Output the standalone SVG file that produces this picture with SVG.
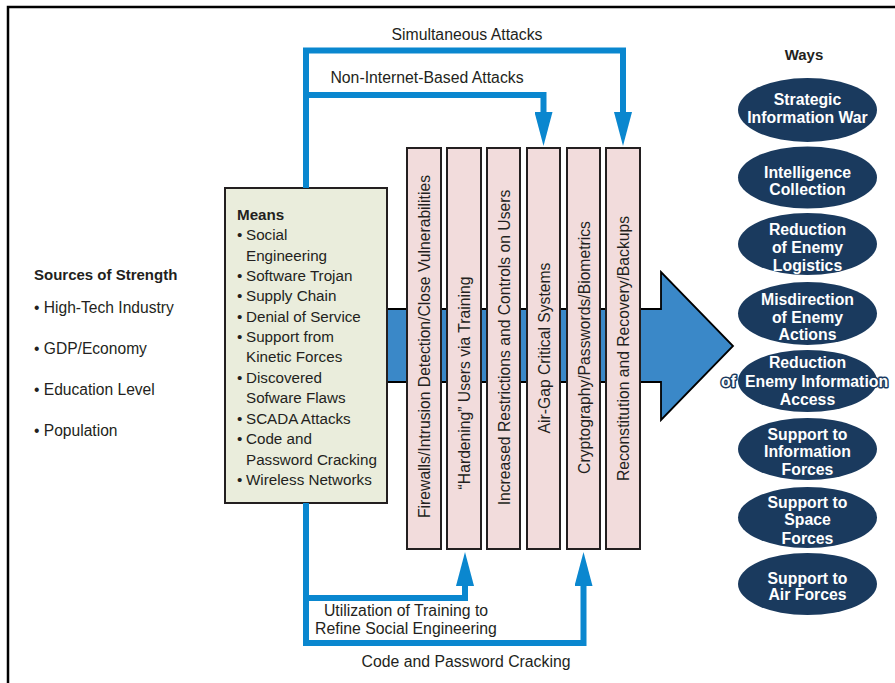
<svg xmlns="http://www.w3.org/2000/svg" width="895" height="683" viewBox="0 0 895 683">
<style>
  text { font-family: "Liberation Sans", Arial, sans-serif; fill: #231f20; }
  .lbl { font-size: 15.8px; }
  .means { font-size: 15.2px; }
  .bar { fill: #f2dcdc; stroke: #231f20; stroke-width: 2; }
  .bartxt { font-size: 15.7px; text-anchor: middle; }
  .conn { fill: none; stroke: #0a87cf; stroke-width: 6; stroke-linejoin: miter; marker-end: url(#ah); }
  .way { fill: #1a3a5e; }
  .waytxt { font-size: 15.8px; font-weight: bold; fill: #ffffff; text-anchor: middle; }
  .outl { text-anchor: start; stroke: #1a3a5e; stroke-width: 3; paint-order: stroke; stroke-linejoin: round; }
  .src { font-size: 15.6px; }
</style>
<defs>
  <marker id="ah" viewBox="0 0 34 18" refX="0" refY="9" markerWidth="34" markerHeight="18" markerUnits="userSpaceOnUse" orient="auto">
    <path d="M0,0 L34,9 L0,18 Z" fill="#0a87cf"/>
  </marker>
</defs>
<rect x="0" y="0" width="895" height="683" fill="#ffffff"/>
<rect x="8" y="7" width="920" height="720" fill="none" stroke="#000000" stroke-width="2.5"/>

<g id="sources">
  <text x="34" y="280" style="font-size:15px;font-weight:bold">Sources of Strength</text>
  <text class="src" x="34" y="313">• High-Tech Industry</text>
  <text class="src" x="34" y="354">• GDP/Economy</text>
  <text class="src" x="34" y="395">• Education Level</text>
  <text class="src" x="34" y="436">• Population</text>
</g>

<g id="main-arrow">
  <polygon points="380,309 661,309 661,272 733,346 661,420 661,382 380,382" fill="#3a88c8" stroke="#000000" stroke-width="1.8" stroke-linejoin="miter"/>
</g>

<g id="means">
  <rect x="225" y="188" width="162" height="315" fill="#eaeddc" stroke="#231f20" stroke-width="2"/>
  <text x="237" y="220" style="font-size:15.2px;font-weight:bold">Means</text>
  <text class="means" x="237" y="240">• <tspan x="246">Social</tspan></text>
  <text class="means" x="246" y="261">Engineering</text>
  <text class="means" x="237" y="281">• <tspan x="246">Software Trojan</tspan></text>
  <text class="means" x="237" y="301">• <tspan x="246">Supply Chain</tspan></text>
  <text class="means" x="237" y="322">• <tspan x="246">Denial of Service</tspan></text>
  <text class="means" x="237" y="342">• <tspan x="246">Support from</tspan></text>
  <text class="means" x="246" y="362">Kinetic Forces</text>
  <text class="means" x="237" y="383">• <tspan x="246">Discovered</tspan></text>
  <text class="means" x="246" y="403">Sofware Flaws</text>
  <text class="means" x="237" y="424">• <tspan x="246">SCADA Attacks</tspan></text>
  <text class="means" x="237" y="444">• <tspan x="246">Code and</tspan></text>
  <text class="means" x="246" y="465">Password Cracking</text>
  <text class="means" x="237" y="485">• <tspan x="246">Wireless Networks</tspan></text>
</g>

<g id="bar1">
  <rect class="bar" x="407" y="148" width="34" height="401"/>
  <text class="bartxt" transform="translate(430,346.5) rotate(-90)">Firewalls/Intrusion Detection/Close Vulnerabilities</text>
</g>
<g id="bar2">
  <rect class="bar" x="447" y="148" width="34" height="401"/>
  <text class="bartxt" transform="translate(470,383) rotate(-90)">“Hardening” Users via Training</text>
</g>
<g id="bar3">
  <rect class="bar" x="487" y="148" width="33" height="401"/>
  <text class="bartxt" transform="translate(509.5,347.5) rotate(-90)">Increased Restrictions and Controls on Users</text>
</g>
<g id="bar4">
  <rect class="bar" x="527" y="148" width="33" height="401"/>
  <text class="bartxt" transform="translate(549.5,348) rotate(-90)">Air-Gap Critical Systems</text>
</g>
<g id="bar5">
  <rect class="bar" x="567" y="148" width="33" height="401"/>
  <text class="bartxt" transform="translate(589.5,347.5) rotate(-90)">Cryptography/Passwords/Biometrics</text>
</g>
<g id="bar6">
  <rect class="bar" x="606" y="148" width="34" height="401"/>
  <text class="bartxt" transform="translate(629,348.5) rotate(-90)">Reconstitution and Recovery/Backups</text>
</g>

<g id="connectors">
  <path class="conn" d="M306,188 V50.5 H623 V112"/>
  <path class="conn" d="M306,95 H543.5 V112"/>
  <path class="conn" d="M306,503 V598 H465 V586"/>
  <path class="conn" d="M306,598 V643 H583.5 V586"/>
  <text class="lbl" x="467" y="40" text-anchor="middle">Simultaneous Attacks</text>
  <text class="lbl" x="427" y="83" text-anchor="middle">Non-Internet-Based Attacks</text>
  <text class="lbl" x="406" y="616" text-anchor="middle">Utilization of Training to</text>
  <text class="lbl" x="406" y="634" text-anchor="middle">Refine Social Engineering</text>
  <text class="lbl" x="466" y="667" text-anchor="middle">Code and Password Cracking</text>
</g>

<g id="ways-title">
  <text x="804" y="60" text-anchor="middle" style="font-size:15px;font-weight:bold">Ways</text>
</g>
<g id="way1">
  <ellipse class="way" cx="807.5" cy="110" rx="69.5" ry="32"/>
  <text class="waytxt" x="807.5" y="105">Strategic</text>
  <text class="waytxt" x="807.5" y="123">Information War</text>
</g>
<g id="way2">
  <ellipse class="way" cx="807.5" cy="177.5" rx="69.5" ry="31"/>
  <text class="waytxt" x="807.5" y="178">Intelligence</text>
  <text class="waytxt" x="807.5" y="195">Collection</text>
</g>
<g id="way3">
  <ellipse class="way" cx="807.5" cy="244" rx="69.5" ry="31"/>
  <text class="waytxt" x="807.5" y="235">Reduction</text>
  <text class="waytxt" x="807.5" y="253">of Enemy</text>
  <text class="waytxt" x="807.5" y="271">Logistics</text>
</g>
<g id="way4">
  <ellipse class="way" cx="807.5" cy="313.5" rx="69.5" ry="31.5"/>
  <text class="waytxt" x="807.5" y="305">Misdirection</text>
  <text class="waytxt" x="807.5" y="323">of Enemy</text>
  <text class="waytxt" x="807.5" y="340">Actions</text>
</g>
<g id="way5">
  <ellipse class="way" cx="807.5" cy="381" rx="69.5" ry="31"/>
  <text class="waytxt" x="807.5" y="368">Reduction</text>
  <text class="waytxt outl" x="721" y="387">of</text>
  <text class="waytxt outl" x="745" y="387">Enemy Information</text>
  <text class="waytxt" x="807.5" y="405">Access</text>
</g>
<g id="way6">
  <ellipse class="way" cx="807.5" cy="449" rx="69.5" ry="31"/>
  <text class="waytxt" x="807.5" y="440">Support to</text>
  <text class="waytxt" x="807.5" y="457">Information</text>
  <text class="waytxt" x="807.5" y="475">Forces</text>
</g>
<g id="way7">
  <ellipse class="way" cx="807.5" cy="517.5" rx="69.5" ry="30.5"/>
  <text class="waytxt" x="807.5" y="508">Support to</text>
  <text class="waytxt" x="807.5" y="525">Space</text>
  <text class="waytxt" x="807.5" y="544">Forces</text>
</g>
<g id="way8">
  <ellipse class="way" cx="807.5" cy="584" rx="69.5" ry="31"/>
  <text class="waytxt" x="807.5" y="583.5">Support to</text>
  <text class="waytxt" x="807.5" y="600">Air Forces</text>
</g>
</svg>
